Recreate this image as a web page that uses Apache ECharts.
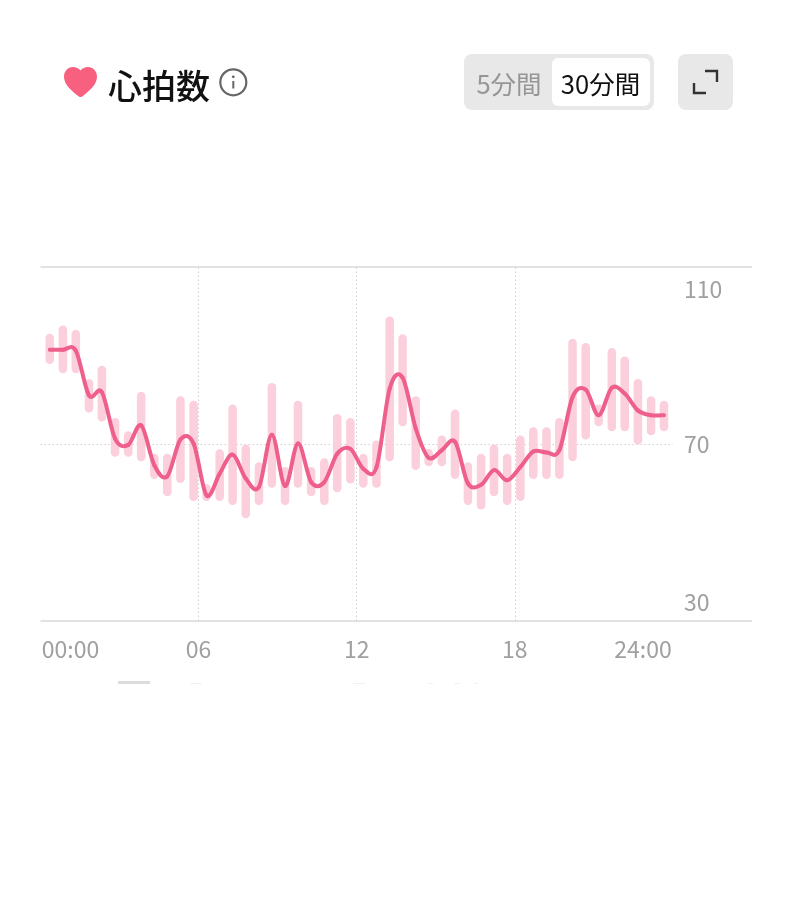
<!DOCTYPE html>
<html><head><meta charset="utf-8">
<style>html,body{margin:0;padding:0;background:#fff}#c{width:800px;height:903px}</style>
<script src="https://cdn.jsdelivr.net/npm/echarts@6/dist/echarts.min.js"></script>
</head><body><div id="c"></div>
<script>
const hours=[0.35,0.85,1.34,1.84,2.33,2.83,3.33,3.82,4.32,4.81,5.31,5.81,6.30,6.80,7.29,7.79,8.29,8.78,9.28,9.77,10.27,10.77,11.26,11.76,12.25,12.75,13.25,13.74,14.24,14.73,15.23,15.73,16.22,16.72,17.21,17.71,18.21,18.70,19.20,19.69,20.19,20.69,21.18,21.68,22.17,22.67,23.17,23.66];
const highs=[94.9,96.8,95.8,84.7,87.7,75.9,72.9,81.8,67.8,67.8,80.8,79.8,60.9,68.8,78.9,69.9,65.9,83.8,64.8,79.8,64.8,66.8,76.8,75.9,67.8,70.8,98.8,94.8,80.8,68.9,71.9,77.8,65.9,67.8,69.9,67.8,71.9,73.8,73.8,75.9,93.8,92.8,78.9,91.7,89.8,84.7,80.8,79.8];
const lows=[88.1,86.0,86.0,77.1,75.1,67.1,67.1,66.1,62.1,58.2,61.2,57.1,57.1,57.1,56.2,53.2,56.2,60.1,56.2,60.1,58.2,56.2,59.1,61.1,60.1,60.1,66.1,74.0,64.1,65.0,65.0,62.1,56.2,55.2,58.2,56.2,57.1,62.1,62.1,62.1,66.1,71.0,74.0,72.9,72.9,69.9,72.0,72.9];
const avg=[91.3,91.3,91.1,81.0,81.7,71.2,69.8,74.2,65.2,62.7,71.0,70.1,58.4,63.3,67.6,62.2,60.3,72.1,60.5,70.1,61.4,61.4,67.8,68.9,64.4,64.8,82.5,85.0,73.5,66.9,68.6,70.5,61.1,60.8,64.1,61.8,64.8,68.3,68.1,68.6,80.6,82.3,76.5,82.7,81.4,77.6,76.5,76.5];
const xTicks={0:'00:00',6:'06',12:'12',18:'18',24:'24:00'};
const yTicks=[30,70,110];
const title='心拍数', tabOff='5分間', tabOn='30分間';
const JP='"Noto Sans CJK JP"';
const HEART='path://M16.5 29.5 C15.5 29.5 14.5 28.8 13 27.5 C6 22 0 16.5 0 9.5 C0 4 4 0 9 0 C12 0 14.8 1.2 16.5 3.5 C18.2 1.2 21 0 24 0 C29 0 33 4 33 9.5 C33 16.5 27 22 20 27.5 C18.5 28.8 17.5 29.5 16.5 29.5 Z';
const DOT={color:'#cfcfcf',type:[1.5,2.5],width:1};
const SOLID={color:'#d8d8d8',type:'solid',width:1.5};
const LBL={color:'#a0a0a0',fontSize:23,fontFamily:JP};
const chart=echarts.init(document.getElementById('c'),null,{renderer:'canvas'});
chart.setOption({
 animation:false,backgroundColor:'#fff',
 grid:{left:40.5,right:48,top:267,bottom:282},
 xAxis:{type:'value',min:0,max:27,interval:6,
  axisLine:{show:false},axisTick:{show:false},splitLine:{show:false},
  axisLabel:{margin:17,showMaxLabel:false,hideOverlap:false,
   formatter:v=>{const t=xTicks[v];if(!t)return '';return v===0?`{l|${t}}`:v===24?`{r|${t}}`:`{m|${t}}`;},
   rich:{l:{padding:[0,0,0,60],...LBL},r:{padding:[0,60,0,0],...LBL},m:LBL}}},
 yAxis:{type:'value',min:30,max:110,interval:40,position:'right',
  axisLine:{show:false},axisTick:{show:false},splitLine:{show:false},
  axisLabel:{inside:true,margin:68,align:'left',
   verticalAlignMinLabel:'bottom',verticalAlignMaxLabel:'top',
   formatter:v=>yTicks.includes(v)?(v===110?`{t|${v}}`:v===30?`{b|${v}}`:`{c|${v}}`):'',
   rich:{t:{padding:[11,0,0,0],...LBL},b:{padding:[0,0,7,0],...LBL},c:{padding:[1,0,0,0],...LBL}}}},
 series:[
  {type:'custom',z:2,silent:true,clip:false,
   encode:{x:0,y:[1,2]},
   data:hours.map((h,i)=>[h,highs[i],lows[i]]),
   renderItem:(p,api)=>{
     const a=api.coord([api.value(0),api.value(1)]),b=api.coord([api.value(0),api.value(2)]);
     const w=8.5;
     return {type:'rect',shape:{x:a[0]-w/2,y:a[1],width:w,height:b[1]-a[1],r:w/2},style:{fill:'#fbcfdc'}};
   },
   markPoint:{silent:true,label:{show:false},data:[{x:80.5,y:82,symbol:HEART,symbolSize:[33,30],itemStyle:{color:'#f7617f'}}]},
   markLine:{silent:true,symbol:'none',label:{show:false},z:1,animation:false,
     data:[[{coord:[0,70],lineStyle:DOT},{coord:[24,70]}],
           {xAxis:6,lineStyle:DOT},{xAxis:12,lineStyle:DOT},{xAxis:18,lineStyle:DOT},
           {yAxis:110,lineStyle:SOLID},{yAxis:30,lineStyle:SOLID}]}},
  {type:'custom',z:3,silent:true,clip:false,
   encode:{x:0,y:1},
   data:hours.map((h,i)=>[h,avg[i]]),
   renderItem:(p,api)=>{
     const i=p.dataIndex, n=hours.length;
     if(i>=n-1) return null;
     const c=k=>{const j=Math.max(0,Math.min(n-1,k));return api.coord([hours[j],avg[j]]);};
     const p0=c(i-1),p1=c(i),p2=c(i+1),p3=c(i+2);
     return {type:'bezierCurve',
       shape:{x1:p1[0],y1:p1[1],x2:p2[0],y2:p2[1],
         cpx1:p1[0]+(p2[0]-p0[0])/6,cpy1:p1[1]+(p2[1]-p0[1])/6,
         cpx2:p2[0]-(p3[0]-p1[0])/6,cpy2:p2[1]-(p3[1]-p1[1])/6},
       style:{stroke:'#ee5f8b',lineWidth:4,lineCap:'round',fill:'none'}};
   }}
 ],
 graphic:[
  {type:'text',x:108,y:86,style:{text:title,font:'500 34px '+JP,fill:'#111',textVerticalAlign:'middle'}},
  {type:'circle',shape:{cx:233.3,cy:82.3,r:13},style:{fill:'none',stroke:'#666',lineWidth:2.2}},
  {type:'circle',shape:{cx:233.3,cy:76.8,r:1.4},style:{fill:'#666'}},
  {type:'line',shape:{x1:233.3,y1:81,x2:233.3,y2:88.5},style:{stroke:'#666',lineWidth:2}},
  {type:'rect',shape:{x:464,y:54,width:190,height:56,r:8},style:{fill:'#e8e8e8'}},
  {type:'rect',shape:{x:552,y:58,width:98,height:48,r:6},style:{fill:'#fff'}},
  {type:'text',x:509,y:84,style:{text:tabOff,font:'25.5px '+JP,fill:'#969696',textAlign:'center',textVerticalAlign:'middle'}},
  {type:'text',x:600.5,y:84,style:{text:tabOn,font:'25.5px '+JP,fill:'#111',textAlign:'center',textVerticalAlign:'middle'}},
  {type:'rect',shape:{x:678,y:54,width:55,height:56,r:8},style:{fill:'#e8e8e8'}},
  {type:'polyline',shape:{points:[[705,71],[717,71],[717,82]]},style:{stroke:'#333',lineWidth:2.4,fill:'none'}},
  {type:'polyline',shape:{points:[[694,83],[694,93],[706,93]]},style:{stroke:'#333',lineWidth:2.4,fill:'none'}},
  {type:'rect',shape:{x:118,y:681,width:32,height:3},style:{fill:'#dcdcdc'}},
  {type:'rect',shape:{x:190,y:683,width:12,height:1},style:{fill:'#f0f0f0'}},
  {type:'rect',shape:{x:353,y:683,width:12,height:1},style:{fill:'#f0f0f0'}},
  {type:'rect',shape:{x:429,y:683,width:4,height:1},style:{fill:'#f0f0f0'}},
  {type:'rect',shape:{x:454,y:683,width:5,height:1},style:{fill:'#f0f0f0'}},
  {type:'rect',shape:{x:474,y:683,width:4,height:1},style:{fill:'#f0f0f0'}}
 ]
});
</script></body></html>
